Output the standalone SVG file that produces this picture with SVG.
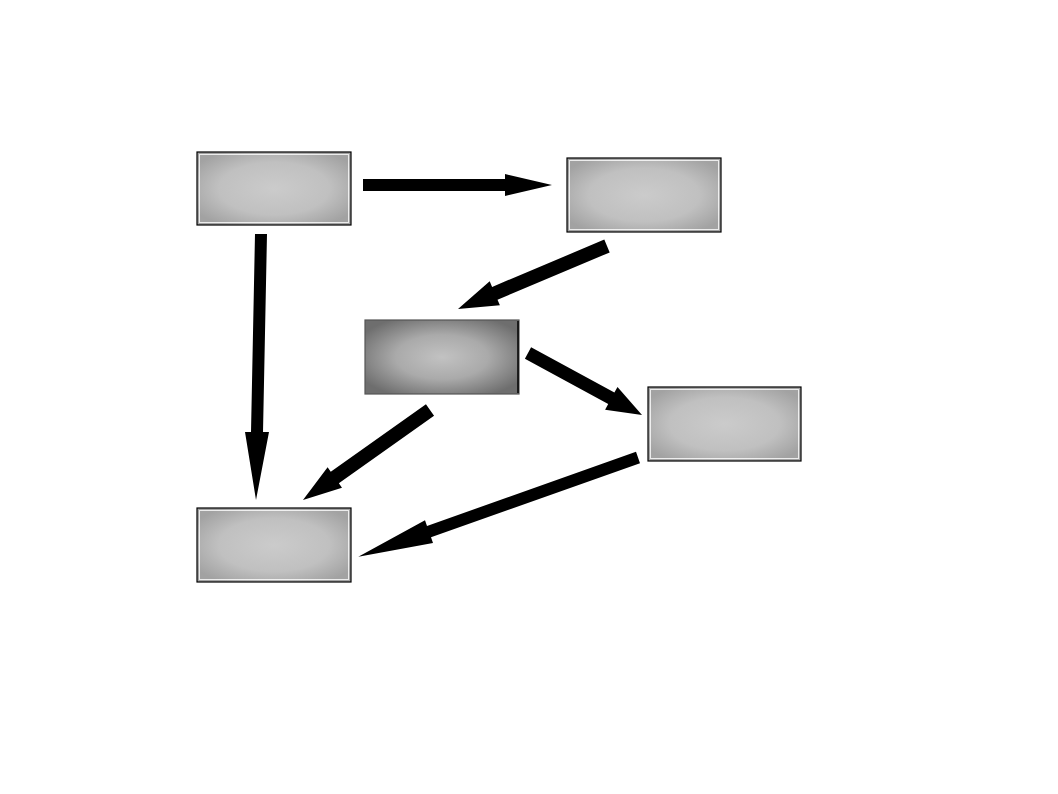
<svg xmlns="http://www.w3.org/2000/svg" width="1058" height="794" viewBox="0 0 1058 794">
<defs>
<radialGradient id="g1" cx="0.5" cy="0.5" r="0.6">
<stop offset="0" stop-color="#cbcbcb"/>
<stop offset="0.6" stop-color="#c0c0c0"/>
<stop offset="1" stop-color="#a2a2a2"/>
</radialGradient>
<radialGradient id="g2" cx="0.5" cy="0.5" r="0.6">
<stop offset="0" stop-color="#c2c2c2"/>
<stop offset="0.5" stop-color="#aaaaaa"/>
<stop offset="1" stop-color="#6e6e6e"/>
</radialGradient>
<style>
.box{fill:url(#g1);stroke:#000;stroke-width:1.2}
.dark{fill:url(#g2);stroke:#555;stroke-width:1.2}
.inner{fill:none;stroke:#fff;stroke-width:1;opacity:0.8}
.arr{fill:#000}
</style>
</defs>
<rect width="1058" height="794" fill="#fff"/>
<g id="nodeA"><rect class="box" x="197" y="152" width="154" height="73"/><rect class="inner" x="199.5" y="154.5" width="149" height="68"/></g>
<g id="nodeB"><rect class="box" x="567" y="158" width="154" height="74"/><rect class="inner" x="569.5" y="160.5" width="149" height="69"/></g>
<g id="nodeC"><rect class="dark" x="365" y="320" width="154" height="74"/><line x1="518" y1="321" x2="518" y2="393" stroke="#000" stroke-width="1.5"/></g>
<g id="nodeD"><rect class="box" x="648" y="387" width="153" height="74"/><rect class="inner" x="650.5" y="389.5" width="148" height="69"/></g>
<g id="nodeE"><rect class="box" x="197" y="508" width="154" height="74"/><rect class="inner" x="199.5" y="510.5" width="149" height="69"/></g>
<g id="connectors">
<polygon class="arr" points="363,179 505,179 505,174 552,185 505,196 505,191 363,191"/>
<polygon class="arr" points="255,234 267,234 263,432 269,432 256,500 245,432 251,432"/>
<polygon class="arr" points="604.3,239.6 492.1,286.9 489.7,281.3 458,309 499.9,305.3 497.5,299.7 609.7,252.4"/>
<polygon class="arr" points="531.1,347.3 614.4,392.6 617.5,386.9 642,415 605.1,409.7 608.2,404 524.9,358.7"/>
<polygon class="arr" points="425.95,404.3 330.75,471.8 327.6,467.3 303,500 342,487.7 338.85,483.2 434.05,415.7"/>
<polygon class="arr" points="636,451.85 427,525.95 425,520.3 358.3,556.7 433,542.9 431,537.25 640,463.15"/>
</g>
</svg>
